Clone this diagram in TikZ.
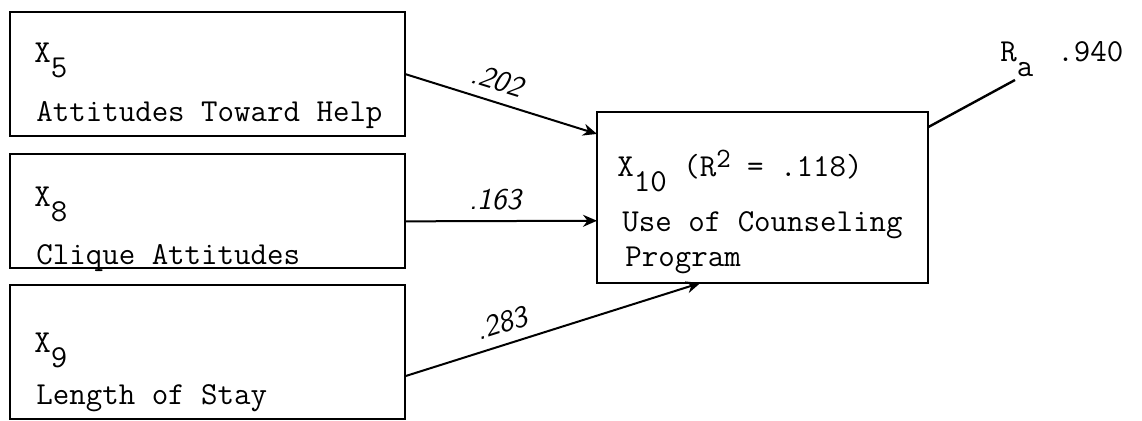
\documentclass[tikz,border=0pt]{standalone}
\usepackage{fontspec}
\usepackage{tikz}
\usetikzlibrary{arrows.meta}
\newcommand\lo[1]{\raisebox{-7.5pt}{#1}}
\newcommand\hi[1]{\raisebox{4.5pt}{\fontsize{14}{14}\selectfont #1}}
\begin{document}
\begin{tikzpicture}[x=0.5pt, y=-0.5pt]
\tikzstyle{box}=[draw, line width=1.2pt, inner sep=0pt, outer sep=0pt]
\tikzstyle{txt}=[anchor=base west, inner sep=0pt,
                 font=\ttfamily\fontsize{16}{19}\selectfont]
\tikzstyle{lab}=[sloped, above, inner sep=5pt,
                 font=\sffamily\itshape\fontsize{15}{15}\selectfont]
\useasboundingbox (0,0) rectangle (1142,421);
\path (207.5,74) node[box, minimum width=197.5pt, minimum height=62pt] (b5) {};
\node[box, minimum width=197.5pt, minimum height=57pt] (b8) at (207.5,211) {};
\node[box, minimum width=197.5pt, minimum height=67pt] (b9) at (207.5,352) {};
\node[box, minimum width=165.5pt, minimum height=85.5pt] (b10) at (762.5,197.5) {};
\node[txt] (t5a) at (34,63) {X\lo{5}};
\node[txt] (t5b) at (36,122) {Attitudes Toward Help};
\node[txt] (t8a) at (34,207) {X\lo{8}};
\node[txt] (t8b) at (36,265) {Clique Attitudes};
\node[txt] (t9a) at (34,353) {X\lo{9}};
\node[txt] (t9b) at (36,405) {Length of Stay};
\node[txt] (t10a) at (617,177) {X\lo{10} (R\hi{2} = .118)};
\node[txt] (t10b) at (622,232) {Use of Counseling};
\node[txt] (t10c) at (625,267) {Program};
\node[txt] (ra) at (1000,62) {R\lo{a}\hspace{12pt}.940};
\coordinate (rend) at (1015,80);
\foreach \i/\j/\w/\p in {b5.east/b10.159/.202/0.45, b8.-3/b10.188/.163/0.47,
                         b9.-7/b10.234/.283/0.35}{
  \draw[line width=1pt, -{Stealth[length=7pt,width=6pt]}] (\i) -- node[lab, pos=\p] {\w} (\j);}
\draw[line width=1.2pt] (b10.23) -- (rend);
\end{tikzpicture}
\end{document}
